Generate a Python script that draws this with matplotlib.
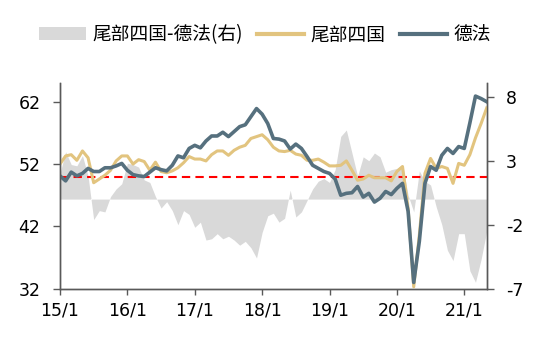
import matplotlib
matplotlib.use("Agg")
import matplotlib.pyplot as plt
from matplotlib.patches import Patch
from matplotlib.lines import Line2D

plt.rcParams["axes.unicode_minus"] = False

# monthly data, 2015/1 - 2021/5
periphery = [52.0, 53.3, 53.5, 52.6, 54.1, 53.0, 49.0, 49.6, 50.2, 51.0, 52.5, 53.3,
             53.3, 52.0, 52.7, 52.4, 51.0, 52.3, 50.8, 50.6, 50.9, 51.4, 52.2, 53.2,
             52.8, 52.8, 52.5, 53.5, 54.1, 54.1, 53.4, 54.2, 54.7, 55.0, 56.1, 56.4,
             56.7, 55.9, 54.7, 54.1, 54.0, 54.2, 53.6, 53.4, 52.6, 52.6, 52.8, 52.3,
             51.7, 51.7, 51.8, 52.5, 51.0, 49.4, 49.6, 50.2, 49.8, 49.8, 49.8, 49.3,
             50.8, 51.6, 44.9, 32.3, 40.6, 50.5, 52.9, 51.3, 51.6, 51.3, 48.9, 52.1,
             51.8, 53.5, 56.2, 58.5, 61.0]
de_fr = [50.1, 49.3, 50.7, 50.1, 50.5, 51.3, 50.8, 50.8, 51.4, 51.4, 51.7, 52.1,
         51.0, 50.3, 50.1, 50.0, 50.7, 51.4, 51.1, 50.9, 51.8, 53.3, 53.0, 54.5,
         55.0, 54.6, 55.7, 56.5, 56.5, 57.1, 56.4, 57.2, 58.0, 58.3, 59.6, 60.9,
         60.0, 58.5, 56.1, 56.0, 55.7, 54.4, 55.2, 54.5, 53.2, 51.8, 51.3, 50.8,
         50.5, 49.6, 47.0, 47.3, 47.4, 48.4, 46.7, 47.3, 45.9, 46.5, 47.6, 47.1,
         48.1, 48.9, 44.4, 33.0, 39.6, 48.9, 51.6, 51.0, 53.4, 54.5, 53.7, 54.8,
         54.5, 58.6, 62.9, 62.5, 62.0]
spread = [2.0, 3.7, 2.7, 2.6, 3.4, 1.8, -1.6, -0.9, -1.0, 0.2, 0.8, 1.2,
          2.8, 2.7, 2.5, 1.5, 1.3, 0.2, -0.7, -0.2, -0.9, -2.0, -0.9, -1.2,
          -2.2, -1.8, -3.2, -3.1, -2.7, -3.1, -2.9, -3.2, -3.6, -3.3, -3.8, -4.6,
          -2.6, -1.3, -1.1, -1.8, -1.5, 0.7, -1.4, -1.0, -0.1, 0.8, 1.4, 1.6,
          1.3, 2.3, 4.9, 5.4, 3.6, 1.8, 3.3, 3.0, 3.6, 3.3, 2.1, 2.3,
          2.4, 2.7, 0.3, -1.0, 2.2, 1.4, 1.1, -0.6, -2.0, -4.0, -4.8, -2.7,
          -2.7, -5.6, -6.5, -4.7, -2.5]
x_labels = ["15/1", "16/1", "17/1", "18/1", "19/1", "20/1", "21/1"]
left_ticks = [32, 42, 52, 62]
right_ticks = [-7, -2, 3, 8]

months = list(range(len(de_fr)))

c_gray = "#d9d9d9"
c_yellow = "#e2c47f"
c_dark = "#56707e"
c_axis = "#595959"

fig = plt.figure(figsize=(5.44, 3.46), dpi=100)
ax = fig.add_axes([0.1103, 0.1656, 0.7844, 0.5945])
ax2 = ax.twinx()

# spread area on right axis, drawn behind the lines
ax2.fill_between(months, 0, spread, color=c_gray, linewidth=0)
ax2.set_ylim(-7, 9.07)
ax2.set_yticks(right_ticks)

ax.set_zorder(ax2.get_zorder() + 1)
ax.patch.set_visible(False)

ax.axhline(50, color="red", linestyle=(0, (4, 2.5)), linewidth=1.5)
ax.plot(months, periphery, color=c_yellow, linewidth=2.2)
ax.plot(months, de_fr, color=c_dark, linewidth=2.6)
ax.set_ylim(32, 65)
ax.set_yticks(left_ticks)
ax.set_xlim(0, len(months) - 1)
ax.set_xticks(range(0, 73, 12))
ax.set_xticklabels(x_labels)

for a in (ax, ax2):
    a.spines["top"].set_visible(False)
    for s in ("left", "right", "bottom"):
        a.spines[s].set_color(c_axis)
        a.spines[s].set_linewidth(1)
ax.tick_params(axis="y", direction="out", length=5, width=1, color=c_axis,
               labelsize=12.5, pad=9)
ax.tick_params(axis="x", direction="out", length=4.5, width=1, color=c_axis,
               labelsize=12.5, pad=5)
ax2.tick_params(axis="y", direction="out", length=5, width=1, color=c_axis,
                labelsize=12.5, pad=9)

# legend across the top
handles = [Patch(facecolor=c_gray, edgecolor="none"),
           Line2D([], [], color=c_yellow, linewidth=3),
           Line2D([], [], color=c_dark, linewidth=3)]
labels = ["尾部四国-德法(右)", "尾部四国", "德法"]
fig.legend(handles, labels, loc="center", bbox_to_anchor=(0.487, 0.899), ncol=3,
           frameon=False, prop={"family": ["Noto Sans CJK SC", "DejaVu Sans"], "size": 13.5},
           handlelength=2.5, handletextpad=0.35, columnspacing=0.75)

fig.savefig("out.png", dpi=100)
